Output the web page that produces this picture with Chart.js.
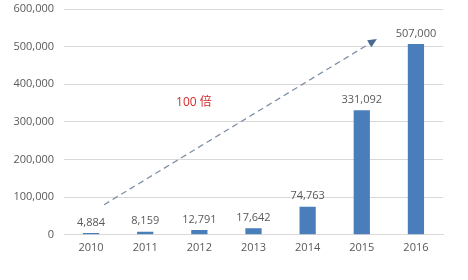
<!DOCTYPE html>
<html lang="zh">
<head>
    <meta charset="UTF-8">
    <title>2010-2016</title>
    <script src="https://cdn.jsdelivr.net/npm/chart.js"></script>
    <style>
        html, body { margin: 0; padding: 0; background: #fff; }
        .chart-box { width: 468px; height: 280px; position: relative; }
    </style>
</head>
<body>
<div class="chart-box">
    <canvas id="canvas"></canvas>
</div>

<script>
    // chart data
    const years = ['2010', '2011', '2012', '2013', '2014', '2015', '2016'];
    const values = [4884, 8159, 12791, 17642, 74763, 331092, 507000];
    const yTicks = [0, 100000, 200000, 300000, 400000, 500000, 600000];

    // trend arrow, in category index / value units
    const arrowFrom = [0.24, 80000];
    const arrowTo = [5.28, 520000];
    const arrowText = '100 倍';
    const arrowTextAt = [1.9, 352000];

    const fontFamily = '"Open Sans", "Noto Sans CJK SC", sans-serif';
    const fmt = n => n.toLocaleString('en-US');

    // labels above each bar
    const barLabels = {
        id: 'barLabels',
        afterDatasetsDraw(chart) {
            const ctx = chart.ctx;
            const meta = chart.getDatasetMeta(0);
            ctx.save();
            ctx.font = '11px ' + fontFamily;
            ctx.fillStyle = '#595959';
            ctx.textAlign = 'center';
            ctx.textBaseline = 'bottom';
            meta.data.forEach((bar, i) => {
                ctx.fillText(fmt(values[i]), bar.x, bar.y - 5);
            });
            ctx.restore();
        }
    };

    // dashed arrow with "100 倍"
    const trendArrow = {
        id: 'trendArrow',
        afterDatasetsDraw(chart) {
            const ctx = chart.ctx;
            const x = chart.scales.x, y = chart.scales.y;
            const x0 = x.getPixelForValue(arrowFrom[0]), y0 = y.getPixelForValue(arrowFrom[1]);
            const x1 = x.getPixelForValue(arrowTo[0]), y1 = y.getPixelForValue(arrowTo[1]);
            const ang = Math.atan2(y1 - y0, x1 - x0);
            ctx.save();
            ctx.strokeStyle = '#7f8fa6';
            ctx.lineWidth = 1.3;
            ctx.setLineDash([6, 4]);
            ctx.beginPath();
            ctx.moveTo(x0, y0);
            ctx.lineTo(x1 - 6 * Math.cos(ang), y1 - 6 * Math.sin(ang));
            ctx.stroke();
            ctx.setLineDash([]);
            ctx.fillStyle = '#4a6a94';
            ctx.beginPath();
            ctx.moveTo(x1, y1);
            ctx.lineTo(x1 - 9 * Math.cos(ang) + 4 * Math.sin(ang), y1 - 9 * Math.sin(ang) - 4 * Math.cos(ang));
            ctx.lineTo(x1 - 9 * Math.cos(ang) - 4 * Math.sin(ang), y1 - 9 * Math.sin(ang) + 4 * Math.cos(ang));
            ctx.closePath();
            ctx.fill();

            ctx.font = '12px ' + fontFamily;
            ctx.fillStyle = '#d42a2a';
            ctx.textAlign = 'center';
            ctx.textBaseline = 'middle';
            ctx.fillText(arrowText, x.getPixelForValue(arrowTextAt[0]), y.getPixelForValue(arrowTextAt[1]));
            ctx.restore();
        }
    };

    const ctx = document.getElementById('canvas').getContext('2d');
    new Chart(ctx, {
        type: 'bar',
        data: {
            labels: years,
            datasets: [{
                data: values,
                backgroundColor: '#4a7ebb',
                categoryPercentage: 1,
                barPercentage: 0.3
            }]
        },
        options: {
            responsive: true,
            maintainAspectRatio: false,
            animation: false,
            layout: { padding: { top: 9, right: 25, bottom: 20, left: 0 } },
            plugins: {
                legend: { display: false },
                tooltip: { enabled: false }
            },
            scales: {
                x: {
                    grid: { display: false, drawTicks: false },
                    border: { color: '#d9d9d9' },
                    ticks: { color: '#595959', font: { family: fontFamily, size: 11 }, padding: 6 }
                },
                y: {
                    min: 0,
                    max: 600000,
                    afterBuildTicks: scale => { scale.ticks = yTicks.map(v => ({ value: v })); },
                    afterFit: scale => { scale.width = 64; scale.paddingTop = 0; scale.paddingBottom = 0; },
                    grid: { color: '#d9d9d9', drawTicks: false },
                    border: { display: false },
                    ticks: {
                        color: '#595959',
                        font: { family: fontFamily, size: 11 },
                        padding: 10,
                        callback: v => fmt(v)
                    }
                }
            }
        },
        plugins: [barLabels, trendArrow]
    });
</script>
</body>
</html>
